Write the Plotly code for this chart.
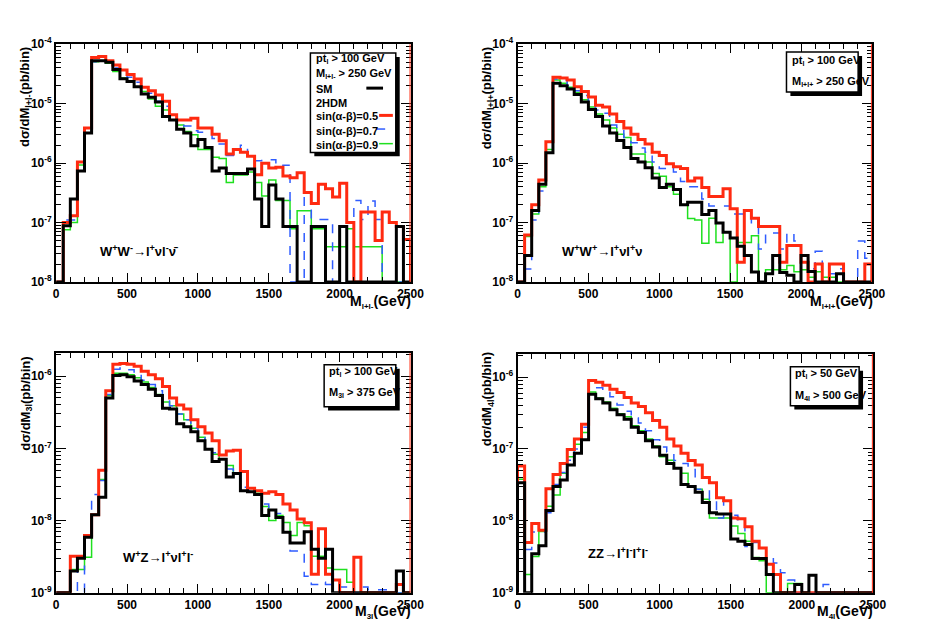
import numpy as np
import plotly.graph_objects as go

# bin edges, 50 GeV bins from 0 to 2500 GeV
edges = list(range(0, 2550, 50))

# W+W- -> l+ nu l- nubar   (SM, sin(a-b)=0.5, 0.7, 0.9)
ww_sm = [0, 8.8e-8, 2.5e-7, 7.4e-7, 3.2e-6, 5.3e-5, 5.3e-5, 5.0e-5, 3.75e-5, 2.64e-5,
         2.36e-5, 1.93e-5, 1.46e-5, 1.29e-5, 1.07e-5, 6.1e-6, 5.3e-6, 3.7e-6, 3.2e-6, 1.97e-6,
         2.5e-6, 1.83e-6, 7.4e-7, 8.3e-7, 6.7e-7, 6.7e-7, 6.7e-7, 8.0e-7, 2.5e-7, 8.6e-8,
         4.3e-7, 2.5e-7, 8.6e-8, 8.6e-8, 0, 0, 8.6e-8, 8.6e-8, 0, 0,
         8.6e-8, 0, 0, 0, 0, 0, 0, 0, 8.6e-8, 0]
ww_05 = [0, 1.0e-7, 1.3e-7, 1.05e-6, 3.9e-6, 6.0e-5, 6.2e-5, 5.3e-5, 4.5e-5, 3.7e-5,
         3.1e-5, 2.6e-5, 1.9e-5, 1.65e-5, 1.4e-5, 1.1e-5, 6.5e-6, 5.3e-6, 5.3e-6, 5.7e-6,
         3.9e-6, 3.9e-6, 3.05e-6, 2.37e-6, 1.43e-6, 1.7e-6, 1.52e-6, 1.3e-6, 6.4e-7, 1.0e-6,
         8.3e-7, 8.5e-7, 6.1e-7, 5.7e-7, 6.9e-7, 3.2e-7, 2.1e-7, 4.4e-7, 3.7e-7, 2.7e-7,
         4.6e-7, 1.0e-7, 0, 1.5e-7, 1.5e-7, 5.0e-8, 1.5e-7, 1.0e-7, 8.6e-8, 5.2e-8]
ww_07 = [0, 1.1e-7, 1.1e-7, 8.5e-7, 3.2e-6, 5.1e-5, 5.4e-5, 5.0e-5, 4.0e-5, 3.2e-5,
         2.8e-5, 2.3e-5, 1.9e-5, 1.5e-5, 1.1e-5, 9.1e-6, 7.4e-6, 5.0e-6, 4.2e-6, 3.5e-6,
         3.3e-6, 3.2e-6, 2.6e-6, 2.1e-6, 1.35e-6, 1.55e-6, 2.0e-6, 1.3e-6, 1.1e-6, 1.14e-6,
         1.14e-6, 8.8e-7, 9.2e-7, 0, 0, 3.1e-7, 1.13e-7, 1.13e-7, 1.13e-7, 0,
         0, 0, 2.35e-7, 1.13e-7, 2.3e-7, 1.13e-7, 0, 0, 0, 0]
ww_09 = [0, 7.6e-8, 1.0e-7, 9.3e-7, 3.2e-6, 5.1e-5, 5.2e-5, 4.8e-5, 3.5e-5, 2.7e-5,
         2.3e-5, 1.9e-5, 1.6e-5, 1.2e-5, 9.1e-6, 7.8e-6, 5.3e-6, 4.4e-6, 3.4e-6, 3.0e-6,
         1.7e-6, 1.7e-6, 1.26e-6, 1.2e-6, 4.7e-7, 6.3e-7, 6.3e-7, 7.1e-7, 4.7e-7, 2.8e-7,
         5.2e-7, 2.35e-7, 2.35e-7, 7.9e-8, 1.58e-7, 1.58e-7, 7.9e-8, 7.9e-8, 3.9e-8, 3.9e-8,
         3.9e-8, 7.9e-8, 3.9e-8, 3.9e-8, 3.9e-8, 3.9e-8, 0, 0, 0, 0]

# W+W+ -> l+ nu l+ nu
wpwp_sm = [0, 2.8e-8, 1.6e-7, 4.4e-7, 1.5e-6, 2.2e-5, 2.0e-5, 1.77e-5, 1.43e-5, 1.07e-5,
           8.0e-6, 6.1e-6, 4.2e-6, 3.2e-6, 2.4e-6, 1.83e-6, 1.2e-6, 1.05e-6, 8.4e-7, 5.6e-7,
           3.9e-7, 4.4e-7, 3.6e-7, 2.0e-7, 2.2e-7, 2.2e-7, 1.37e-7, 1.6e-7, 9.8e-8, 6.9e-8,
           5.5e-8, 4.0e-8, 2.8e-8, 1.47e-8, 0, 1.38e-8, 2.8e-8, 1.45e-8, 1.3e-8, 0,
           2.8e-8, 1.5e-8, 0, 0, 0, 1.38e-8, 0, 0, 0, 0]
wpwp_05 = [0, 6.2e-8, 2.0e-7, 5.2e-7, 2.3e-6, 2.8e-5, 2.7e-5, 2.5e-5, 1.93e-5, 1.6e-5,
           1.3e-5, 9.4e-6, 8.8e-6, 6.7e-6, 5.0e-6, 3.9e-6, 3.05e-6, 2.5e-6, 2.1e-6, 1.52e-6,
           1.35e-6, 9.8e-7, 8.7e-7, 8.1e-7, 5.0e-7, 5.6e-7, 3.9e-7, 2.75e-7, 2.75e-7, 3.7e-7,
           1.7e-7, 2.15e-8, 1.6e-7, 1.18e-7, 8.6e-8, 8.6e-8, 8.6e-8, 2.15e-8, 4.1e-8, 4.1e-8,
           2.15e-8, 0, 2.0e-8, 0, 2.0e-8, 2.0e-8, 0, 0, 0, 2.0e-8]
wpwp_07 = [0, 1.66e-8, 1.1e-7, 3.4e-7, 1.5e-6, 2.6e-5, 2.5e-5, 2.0e-5, 1.66e-5, 1.37e-5,
           1.07e-5, 7.8e-6, 6.9e-6, 4.4e-6, 3.7e-6, 2.7e-6, 2.2e-6, 1.8e-6, 1.52e-6, 1.05e-6,
           8.1e-7, 8.7e-7, 7.1e-7, 4.9e-7, 4.0e-7, 4.0e-7, 2.5e-7, 1.9e-7, 1.9e-7, 1.9e-7,
           1.4e-7, 1.4e-7, 1.37e-7, 9.2e-8, 3.6e-8, 6.7e-8, 6.7e-8, 3.6e-8, 6.7e-8, 4.9e-8,
           2.15e-8, 1.67e-8, 3.3e-8, 1.67e-8, 1.38e-8, 1.67e-8, 0, 0, 4.9e-8, 2.5e-8]
wpwp_09 = [0, 5.8e-8, 1.4e-7, 4.0e-7, 1.7e-6, 2.5e-5, 2.2e-5, 1.9e-5, 1.55e-5, 1.17e-5,
           8.8e-6, 6.7e-6, 5.3e-6, 3.9e-6, 3.05e-6, 2.7e-6, 1.43e-6, 1.43e-6, 1.05e-6, 6.7e-7,
           6.0e-7, 4.0e-7, 3.0e-7, 2.0e-7, 1.17e-7, 1.1e-7, 4.5e-8, 1.18e-7, 4.6e-8, 6.9e-8,
           0, 4.6e-8, 4.6e-8, 6.0e-8, 0, 1.6e-8, 1.6e-8, 1.6e-8, 1.9e-8, 1.48e-8,
           1.6e-8, 1.2e-8, 1.48e-8, 1.2e-8, 1.2e-8, 0, 0, 0, 0, 0]

# W+Z -> l+ nu l+ l-
wz_sm = [0, 0, 2.0e-9, 3.0e-9, 5.9e-9, 1.2e-8, 2.1e-8, 5.0e-7, 1.02e-6, 1.05e-6,
         9.8e-7, 8.6e-7, 7.7e-7, 6.6e-7, 5.4e-7, 3.6e-7, 3.5e-7, 2.2e-7, 2.0e-7, 1.7e-7,
         1.28e-7, 9.7e-8, 6.6e-8, 7.1e-8, 4.0e-8, 4.5e-8, 2.6e-8, 2.5e-8, 2.3e-8, 1.18e-8,
         1.4e-8, 1.1e-8, 6.9e-9, 4.9e-9, 4.9e-9, 7.0e-9, 4.0e-9, 3.0e-9, 4.0e-9, 0,
         0, 0, 0, 0, 0, 0, 0, 0, 2.0e-9, 0]
wz_05 = [0, 0, 3.2e-9, 3.2e-9, 6.2e-9, 1.2e-8, 5.0e-8, 6.3e-7, 1.47e-6, 1.5e-6,
         1.47e-6, 1.37e-6, 1.17e-6, 1.05e-6, 9.2e-7, 7.2e-7, 5.0e-7, 4.0e-7, 3.5e-7, 2.5e-7,
         2.0e-7, 1.63e-7, 1.28e-7, 8.1e-8, 9.2e-8, 9.4e-8, 4.8e-8, 2.8e-8, 2.6e-8, 2.4e-8,
         2.5e-8, 2.3e-8, 1.7e-8, 1.4e-8, 1.05e-8, 9.3e-9, 1.8e-9, 7.7e-9, 1.8e-9, 1.5e-9,
         0, 0, 3.1e-9, 0, 0, 0, 0, 0, 1.3e-9, 0]
wz_07 = [0, 0, 2.0e-9, 0, 5.9e-9, 2.3e-8, 3.6e-8, 5.6e-7, 1.25e-6, 1.3e-6,
         1.23e-6, 1.1e-6, 8.8e-7, 7.7e-7, 6.3e-7, 4.8e-7, 3.9e-7, 3.0e-7, 2.5e-7, 1.9e-7,
         1.57e-7, 1.07e-7, 8.7e-8, 7.1e-8, 5.2e-8, 4.9e-8, 2.9e-8, 2.6e-8, 2.3e-8, 1.7e-8,
         1.4e-8, 1.25e-8, 7.0e-9, 3.8e-9, 3.8e-9, 1.7e-9, 1.3e-9, 1.4e-9, 1.3e-9, 1.3e-9,
         1.2e-9, 1.2e-9, 0, 1.2e-9, 1.1e-9, 1.1e-9, 1.1e-9, 1.1e-9, 0, 0]
wz_09 = [0, 0, 2.1e-9, 2.1e-9, 3.1e-9, 1.2e-8, 3.7e-8, 5.4e-7, 1.1e-6, 1.1e-6,
         1.05e-6, 9.5e-7, 8.3e-7, 7.0e-7, 5.6e-7, 4.4e-7, 3.9e-7, 3.0e-7, 2.5e-7, 1.9e-7,
         1.43e-7, 9.7e-8, 8.3e-8, 7.1e-8, 5.8e-8, 4.5e-8, 2.6e-8, 2.5e-8, 2.4e-8, 1.57e-8,
         1.0e-8, 1.18e-8, 9.4e-9, 6.2e-9, 9.4e-9, 8.5e-9, 3.2e-9, 3.2e-9, 2.2e-9, 2.1e-9,
         2.1e-9, 1.4e-9, 0, 0, 0, 0, 0, 0, 0, 0]

# ZZ -> l+ l- l+ l-
zz_sm = [3.4e-8, 0, 3.5e-9, 4.5e-9, 1.4e-8, 3.0e-8, 3.7e-8, 6.0e-8, 8.7e-8, 1.34e-7,
         5.75e-7, 5.0e-7, 4.35e-7, 3.5e-7, 3.0e-7, 2.6e-7, 2.0e-7, 1.7e-7, 1.3e-7, 1.07e-7,
         8.2e-8, 6.3e-8, 5.4e-8, 3.2e-8, 3.0e-8, 2.5e-8, 1.8e-8, 1.3e-8, 1.25e-8, 1.25e-8,
         5.6e-9, 5.2e-9, 4.7e-9, 3.0e-9, 3.0e-9, 1.8e-9, 0, 0, 0, 1.3e-9,
         0, 1.75e-9, 0, 0, 0, 0, 0, 0, 0, 0]
zz_05 = [5.8e-8, 5.0e-9, 9.2e-9, 7.4e-9, 2.8e-8, 4.4e-8, 6.3e-8, 9.8e-8, 1.38e-7, 2.2e-7,
         9.0e-7, 8.5e-7, 7.7e-7, 6.8e-7, 6.1e-7, 5.2e-7, 4.35e-7, 3.9e-7, 3.2e-7, 2.5e-7,
         2.0e-7, 1.38e-7, 1.1e-7, 8.7e-8, 6.9e-8, 6.0e-8, 4.0e-8, 3.4e-8, 2.1e-8, 1.9e-8,
         1.1e-8, 1.07e-8, 8.3e-9, 5.2e-9, 4.2e-9, 2.5e-9, 1.8e-9, 0, 0, 0,
         0, 0, 0, 0, 0, 0, 0, 0, 0, 0]
zz_07 = [4.2e-8, 4.0e-9, 7.0e-9, 7.0e-9, 1.3e-8, 3.2e-8, 4.7e-8, 7.0e-8, 1.0e-7, 2.0e-7,
         7.3e-7, 7.1e-7, 6.1e-7, 5.35e-7, 4.1e-7, 3.35e-7, 2.7e-7, 2.3e-7, 1.8e-7, 1.34e-7,
         1.07e-7, 9.1e-8, 6.9e-8, 6.3e-8, 5.2e-8, 2.75e-8, 2.75e-8, 2.0e-8, 1.1e-8, 2.1e-8,
         1.2e-8, 9.8e-9, 4.4e-9, 5.0e-9, 4.2e-9, 3.1e-9, 2.6e-9, 1.9e-9, 1.5e-9, 0,
         0, 0, 0, 1.3e-9, 0, 0, 0, 0, 0, 0]
zz_09 = [3.8e-8, 1.8e-9, 3.2e-9, 7.1e-9, 1.6e-8, 2.3e-8, 4.6e-8, 7.8e-8, 1.16e-7, 1.7e-7,
         6.2e-7, 5.1e-7, 4.5e-7, 3.7e-7, 3.1e-7, 2.8e-7, 2.1e-7, 1.8e-7, 1.38e-7, 1.1e-7,
         7.8e-8, 7.0e-8, 5.4e-8, 4.6e-8, 3.05e-8, 2.75e-8, 2.0e-8, 1.1e-8, 1.1e-8, 1.1e-8,
         8.5e-9, 6.7e-9, 5.2e-9, 3.1e-9, 2.8e-9, 0, 0, 0, 1.35e-9, 1.35e-9,
         0, 0, 0, 0, 0, 0, 0, 0, 0, 0]

x_ticks = [0, 500, 1000, 1500, 2000, 2500]

# the page body keeps its 8px margin, so the figure is drawn 16px smaller
PAGE_W, PAGE_H, PAD = 941, 637, 8
W, H = PAGE_W - 2 * PAD, PAGE_H - 2 * PAD
RED, BLUE, GREEN = "#ff2a10", "#2f5cff", "#1fe01f"
FONT = "Liberation Sans"


def fx(p):
    return (p - PAD) / W


def fy(p):
    return 1 - (p - PAD) / H


def sub(s, size=8):
    return f'<sub><span style="font-size:{size}px">{s}</span></sub>'


def add_hist(fig, vals, n, color, width, dash, ymin):
    # draw like a ROOT "HIST": zero bins sit on the frame bottom
    floor = 10 ** ymin
    y = [v if v > 0 else floor for v in vals]
    xs = [edges[0]] + edges + [edges[-1]]
    ys = [floor] + y + [y[-1], floor]
    fig.add_trace(go.Scatter(
        x=xs, y=ys, mode="lines", line_shape="hv",
        line=dict(color=color, width=width, dash=dash),
        xaxis=f"x{n}", yaxis=f"y{n}", showlegend=False, hoverinfo="skip"))


panels = [
    dict(n="", hists=(ww_09, ww_07, ww_05, ww_sm), yr=(-8, -4),
         box=(54, 36, 415, 280)),
    dict(n="2", hists=(wpwp_09, wpwp_07, wpwp_05, wpwp_sm), yr=(-8, -4),
         box=(524, 36, 885, 280)),
    dict(n="3", hists=(wz_09, wz_07, wz_05, wz_sm), yr=(-9, -5.68),
         box=(54, 353, 415, 599)),
    dict(n="4", hists=(zz_09, zz_07, zz_05, zz_sm), yr=(-9, -5.68),
         box=(524, 354, 886, 599)),
]

fig = go.Figure()
layout = dict(width=W, height=H, margin=dict(l=0, r=0, t=0, b=0),
              paper_bgcolor="white", plot_bgcolor="white",
              font=dict(family=FONT, size=11, color="black", weight="bold"),
              annotations=[], shapes=[])

for p in panels:
    n = p["n"]
    g, b, r, k = p["hists"]
    add_hist(fig, g, n, GREEN, 1.5, "solid", p["yr"][0])
    add_hist(fig, b, n, BLUE, 1.5, "dash", p["yr"][0])
    add_hist(fig, r, n, RED, 3, "solid", p["yr"][0])
    add_hist(fig, k, n, "black", 3, "solid", p["yr"][0])

    x0, y0, x1, y1 = p["box"]
    decades = list(range(int(np.ceil(p["yr"][0])), int(np.floor(p["yr"][1])) + 1))
    minor = [m * 10.0 ** d for d in range(p["yr"][0], 0) for m in range(2, 10)
             if np.log10(m * 10.0 ** d) < p["yr"][1]]
    layout["xaxis" + n] = dict(
        domain=[fx(x0), fx(x1)], anchor="y" + n, range=[0, 2500],
        showline=True, linewidth=2, linecolor="black", mirror="ticks",
        ticks="inside", ticklen=9, tickwidth=1, tickcolor="black",
        tickvals=x_ticks, ticktext=[str(v) for v in x_ticks],
        minor=dict(dtick=100, ticks="inside", ticklen=5, tickcolor="black"),
        showgrid=False, zeroline=False,
        tickfont=dict(family=FONT, size=12, weight="bold"))
    layout["yaxis" + n] = dict(
        domain=[fy(y1), fy(y0)], anchor="x" + n, type="log", range=list(p["yr"]),
        showline=True, linewidth=2, linecolor="black", mirror="ticks",
        ticks="inside", ticklen=10, tickwidth=1, tickcolor="black",
        tickvals=[10.0 ** d for d in decades],
        ticktext=[f"10<sup>{d}</sup>" for d in decades],
        minor=dict(tickvals=minor, ticks="inside", ticklen=5, tickcolor="black"),
        showgrid=False, zeroline=False,
        tickfont=dict(family=FONT, size=12, weight="bold"))
    # red frame edge at the right end, as in the original canvas
    layout["shapes"].append(dict(type="line", xref="x" + n, yref=f"y{n} domain",
                                 x0=2500, x1=2500, y0=0, y1=1,
                                 line=dict(color=RED, width=2)))


def note(x, y, text, size=11, xanchor="left", yanchor="middle", angle=0):
    layout["annotations"].append(dict(
        x=fx(x), y=fy(y), xref="paper", yref="paper", text=text, showarrow=False,
        xanchor=xanchor, yanchor=yanchor, textangle=angle,
        font=dict(family=FONT, size=size, color="black", weight="bold")))


def pave(x0, y0, x1, y1):
    layout["shapes"].append(dict(type="rect", xref="paper", yref="paper",
                                 x0=fx(x0 + 4), x1=fx(x1 + 4), y0=fy(y1 + 4), y1=fy(y0 + 4),
                                 fillcolor="black", line=dict(width=0)))
    layout["shapes"].append(dict(type="rect", xref="paper", yref="paper",
                                 x0=fx(x0), x1=fx(x1), y0=fy(y1), y1=fy(y0),
                                 fillcolor="white", line=dict(color="black", width=1.5)))


def sample(x0, x1, y, color, width, dash="solid"):
    layout["shapes"].append(dict(type="line", xref="paper", yref="paper",
                                 x0=fx(x0), x1=fx(x1), y0=fy(y), y1=fy(y),
                                 line=dict(color=color, width=width, dash=dash)))


# legend boxes
pave(313, 45, 400, 147)
note(317, 51, "pt" + sub("l", 7) + " > 100 GeV")
note(317, 66, "M" + sub("l+l-", 7) + " > 250 GeV")
note(317, 82, "SM")
sample(370, 387, 81, "black", 3)
note(317, 96, "2HDM")
note(317, 110, "sin(α-β)=0.5")
sample(383, 397, 109, RED, 3)
note(317, 125, "sin(α-β)=0.7")
sample(380, 397, 123, BLUE, 1.5, "dash")
note(317, 139, "sin(α-β)=0.9")
sample(383, 397, 138, GREEN, 1.5)

pave(798, 44, 871, 85)
note(802, 53, "pt" + sub("l", 7) + " > 100 GeV")
note(802, 74, "M" + sub("l+l+", 7) + " > 250 GeV")

pave(327, 365, 400, 408)
note(330, 372, "pt" + sub("l", 7) + " > 100 GeV")
note(330, 393, "M" + sub("3l", 7) + " > 375 GeV")

pave(802, 367, 872, 407)
note(805, 374, "pt" + sub("l", 7) + " > 50 GeV")
note(805, 396, "M" + sub("4l", 7) + " > 500 GeV")

# process labels
note(97, 248, "W<sup>+</sup>W<sup>-</sup>→l<sup>+</sup>νl<sup>-</sup>ν̄", size=13)
note(567, 248, "W<sup>+</sup>W<sup>+</sup>→l<sup>+</sup>νl<sup>+</sup>ν", size=13)
note(120, 562, "W<sup>+</sup>Z→l<sup>+</sup>νl<sup>+</sup>l<sup>-</sup>", size=13)
note(594, 558, "ZZ→l<sup>+</sup>l<sup>-</sup>l<sup>+</sup>l<sup>-</sup>", size=13)

# axis titles
note(418, 301, "M" + sub("l+l-") + "(GeV)", size=14, xanchor="right")
note(888, 301, "M" + sub("l+l+") + "(GeV)", size=14, xanchor="right")
note(418, 619, "M" + sub("3l") + "(GeV)", size=14, xanchor="right")
note(888, 619, "M" + sub("4l") + "(GeV)", size=14, xanchor="right")
note(23, 37, "dσ/dM" + sub("l+l-", 9) + "(pb/bin)", size=13,
     xanchor="center", yanchor="top", angle=-90)
note(493, 37, "dσ/dM" + sub("l+l+", 9) + "(pb/bin)", size=13,
     xanchor="center", yanchor="top", angle=-90)
note(23, 355, "dσ/dM" + sub("3l", 9) + "(pb/bin)", size=13,
     xanchor="center", yanchor="top", angle=-90)
note(493, 350, "dσ/dM" + sub("4l", 9) + "(pb/bin)", size=13,
     xanchor="center", yanchor="top", angle=-90)

fig.update_layout(**layout)
fig.write_html("out.html")
